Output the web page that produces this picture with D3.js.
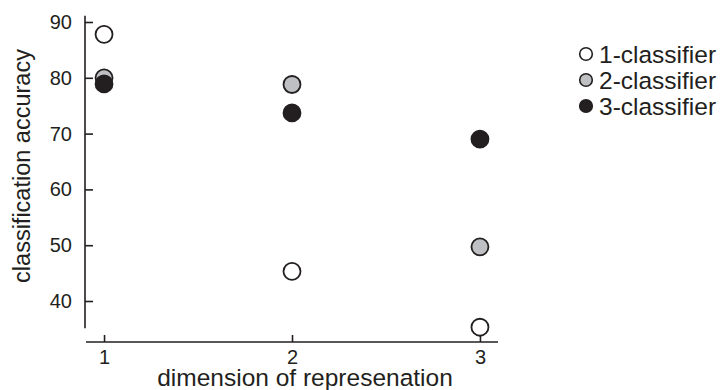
<!DOCTYPE html>
<html>
  <head>
    <meta http-equiv="Content-type" content="text/html; charset=utf-8"/>
    <title>Classification accuracy</title>
    <script src="https://d3js.org/d3.v7.min.js"></script>
    <style>
      body{ margin:0; background:#fff; }
      svg{ display:block; font-family: "Liberation Sans", Arial, sans-serif; }
    </style>
  </head>
  <body>
    <svg width="723" height="390"></svg>
    <script>
      // data
      var dims = [1, 2, 3];
      var series = ["1-classifier", "2-classifier", "3-classifier"];
      var acc1 = [87.8, 45.3, 35.3];
      var acc2 = [80.0, 78.8, 49.7];
      var acc3 = [78.9, 73.7, 69.0];
      var yTicks = [40, 50, 60, 70, 80, 90];
      var fills = ["#ffffff", "#bfc0c3", "#231f20"];

      var svg = d3.select("svg");

      var x = d3.scaleLinear().domain([0.904, 3.096]).range([86, 498]);
      var y = d3.scaleLinear().domain([90, 40]).range([22, 301]);

      var ink = "#231f20";

      // y axis
      var yAxis = svg.append("g")
          .attr("transform", "translate(85,0)")
          .call(d3.axisRight(y).tickValues(yTicks).tickSize(8).tickFormat(d3.format("d")));
      yAxis.select(".domain").remove();
      yAxis.selectAll(".tick line").attr("stroke", ink).attr("stroke-width", 1.6);
      yAxis.selectAll(".tick text").attr("x", -13).attr("text-anchor", "end")
          .attr("fill", ink).style("font-size", "20px").attr("font-family", null);
      svg.append("line").attr("x1", 85).attr("x2", 85)
          .attr("y1", y(91.1)).attr("y2", y(35.1))
          .attr("stroke", ink).attr("stroke-width", 1.6);

      // x axis
      var xAxis = svg.append("g")
          .attr("transform", "translate(0,342)")
          .call(d3.axisTop(x).tickValues(dims).tickSize(7).tickFormat(d3.format("d")));
      xAxis.select(".domain").remove();
      xAxis.selectAll(".tick line").attr("stroke", ink).attr("stroke-width", 1.6);
      xAxis.selectAll(".tick text").attr("y", 21.5).attr("dy", null)
          .attr("fill", ink).style("font-size", "20px").attr("font-family", null);
      svg.append("line").attr("x1", x.range()[0]).attr("x2", x.range()[1])
          .attr("y1", 342).attr("y2", 342)
          .attr("stroke", ink).attr("stroke-width", 1.6);

      // axis titles
      svg.append("text")
          .attr("x", 305).attr("y", 386)
          .attr("text-anchor", "middle").attr("fill", ink)
          .style("font-size", "24.5px")
          .text("dimension of represenation");
      svg.append("text")
          .attr("transform", "translate(30," + 166 + ") rotate(-90)")
          .attr("text-anchor", "middle").attr("fill", ink)
          .style("font-size", "23.5px")
          .text("classification accuracy");

      // points
      var all = [acc1, acc2, acc3];
      all.forEach(function(vals, i){
        svg.append("g").selectAll("circle")
          .data(vals)
          .join("circle")
            .attr("cx", function(d, j){ return x(dims[j]); })
            .attr("cy", function(d){ return y(d); })
            .attr("r", 8.5)
            .attr("fill", fills[i])
            .attr("stroke", ink)
            .attr("stroke-width", 1.8);
      });

      // legend
      var legend = svg.append("g").attr("transform", "translate(586,54)");
      var rows = legend.selectAll("g").data(series).join("g")
          .attr("transform", function(d, i){ return "translate(0," + (i * 26) + ")"; });
      rows.append("circle")
          .attr("r", 6.3)
          .attr("fill", function(d, i){ return fills[i]; })
          .attr("stroke", ink).attr("stroke-width", 1.6);
      rows.append("text")
          .attr("x", 13).attr("dy", "0.36em")
          .attr("fill", ink).style("font-size", "24.5px")
          .text(function(d){ return d; });
    </script>
  </body>
</html>
